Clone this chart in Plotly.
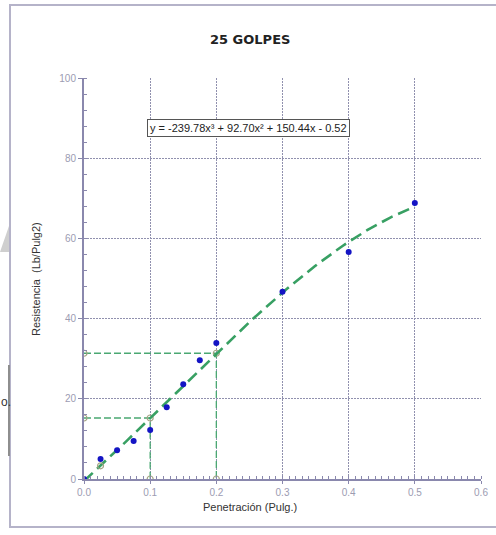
import numpy as np
import plotly.graph_objects as go

# Measured penetration test points (25 blows)
penetracion = [0.0, 0.025, 0.05, 0.075, 0.1, 0.125, 0.15, 0.175, 0.2, 0.3, 0.4, 0.5]
resistencia = [0.0, 5.0, 7.2, 9.5, 12.2, 17.9, 23.6, 29.6, 33.9, 46.7, 56.6, 68.8]

# Cubic fit coefficients: a*x^3 + b*x^2 + c*x + d
coefs = [-239.78, 92.70, 150.44, -0.52]
equation_text = "y = -239.78x³ + 92.70x² + 150.44x - 0.52"

# Reference penetrations read on the fitted curve
guide_x = [0.1, 0.2]
corrected_origin_x = 0.025

x_ticks = [0.0, 0.1, 0.2, 0.3, 0.4, 0.5, 0.6]
y_ticks = [0, 20, 40, 60, 80, 100]

poly = np.poly1d(coefs)
curve_x = np.linspace(0.0, 0.5, 120)
curve_y = poly(curve_x)

# Pixel geometry of the plotting area (for paper-coordinate decorations)
L, R, T, B = 84, 481, 78, 479
W, H = 496, 535


def px(xp):
    return (xp - L) / (R - L)


def py(yp):
    return (B - yp) / (B - T)


GREEN = "#38a063"
GUIDE = "#4aa872"
HOLLOW = "#a3a383"
GRID = "#9090ae"
AXIS = "#8a88ad"
TICKFONT = dict(family="Liberation Sans, Arial, sans-serif", size=10, color="#9c9cb2")

fig = go.Figure()

# Guide lines from the curve down to each axis
for gx in guide_x:
    gy = float(poly(gx))
    fig.add_trace(go.Scatter(
        x=[0.0, gx, gx], y=[gy, gy, 0.0], mode="lines+markers",
        line=dict(color=GUIDE, width=1.3, dash="7px,3px"),
        marker=dict(symbol="circle-open", size=6, color=HOLLOW, line=dict(width=1.2)),
        hoverinfo="skip", showlegend=False,
    ))

# Fitted cubic curve
fig.add_trace(go.Scatter(
    x=curve_x, y=curve_y, mode="lines",
    line=dict(color=GREEN, width=2.6, dash="12px,6px"),
    showlegend=False,
))

# Corrected origin point on the curve
fig.add_trace(go.Scatter(
    x=[corrected_origin_x], y=[float(poly(corrected_origin_x))], mode="markers",
    marker=dict(symbol="circle-open", size=6, color=HOLLOW, line=dict(width=1.2)),
    showlegend=False,
))

# Measured points
fig.add_trace(go.Scatter(
    x=penetracion, y=resistencia, mode="markers",
    marker=dict(size=6, color="#1414c4"),
    showlegend=False,
))

fig.update_xaxes(
    range=[0, 0.6], tickvals=x_ticks, ticktext=[f"{v:.1f}" for v in x_ticks],
    showgrid=True, gridcolor=GRID, griddash="2px,1px", gridwidth=1,
    showline=True, linecolor=AXIS, linewidth=2,
    ticks="outside", ticklen=3, tickcolor=AXIS,
    minor=dict(dtick=0.01, ticks="inside", ticklen=3, tickcolor=AXIS, showgrid=False),
    tickfont=TICKFONT, zeroline=False, automargin=False,
)
fig.update_yaxes(
    range=[0, 100], tickvals=y_ticks,
    showgrid=True, gridcolor=GRID, griddash="2px,1px", gridwidth=1,
    showline=True, linecolor=AXIS, linewidth=2,
    ticks="outside", ticklen=4, tickcolor=AXIS,
    minor=dict(dtick=4, ticks="inside", ticklen=3, tickcolor=AXIS, showgrid=False),
    tickfont=TICKFONT, zeroline=False, automargin=False,
)

annotations = [
    dict(text="<b>25 GOLPES</b>", x=px(250), y=py(30), xref="paper", yref="paper",
         showarrow=False, font=dict(family="DejaVu Sans, sans-serif", size=13, color="#222222")),
    dict(text="Penetración (Pulg.)", x=px(250), y=py(515), xref="paper", yref="paper",
         showarrow=False, font=dict(family="Liberation Sans, Arial, sans-serif", size=11, color="#333333")),
    dict(text="Resistencia  (Lb/Pulg2)", x=px(28), y=py(279), xref="paper", yref="paper",
         textangle=-90, showarrow=False,
         font=dict(family="Liberation Sans, Arial, sans-serif", size=11, color="#333333")),
    dict(text=equation_text, x=0.249, y=87.6, xref="x", yref="y", showarrow=False,
         bgcolor="white", bordercolor="#555555", borderwidth=1, borderpad=2,
         font=dict(family="Liberation Sans, Arial, sans-serif", size=11, color="#222222")),
    dict(text="o.", x=px(-1), y=py(411), xref="paper", yref="paper", xanchor="left",
         showarrow=False, font=dict(family="Liberation Sans, Arial, sans-serif", size=12, color="#333333")),
]

shapes = [
    # Surrounding frame
    dict(type="rect", xref="paper", yref="paper", x0=px(10), x1=px(520), y0=py(527), y1=py(5),
         line=dict(color="#b5b3c9", width=2), layer="below"),
    # Page edge pieces at the left
    dict(type="line", xref="paper", yref="paper", x0=px(9), x1=px(9), y0=py(365), y1=py(456),
         line=dict(color="#8e8e8e", width=2)),
    dict(type="path", xref="paper", yref="paper",
         path=f"M {px(0)},{py(252)} L {px(9)},{py(226)} L {px(9)},{py(252)} Z",
         fillcolor="#cfcfcf", line=dict(width=0)),
]

fig.update_layout(
    width=W, height=H,
    margin=dict(l=L, r=W - R, t=T, b=H - B),
    paper_bgcolor="white", plot_bgcolor="white",
    annotations=annotations, shapes=shapes,
)

fig.write_html("out.html")
